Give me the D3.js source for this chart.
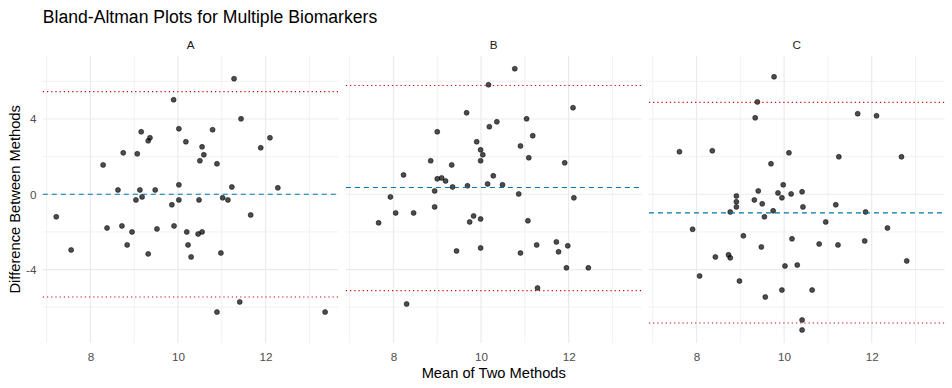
<!DOCTYPE html>
<html>
<head>
<meta charset="utf-8">
<script src="https://cdn.jsdelivr.net/npm/d3@7"></script>
<style>
body { margin: 0; background: #fff; }
text { font-family: "Liberation Sans", Arial, sans-serif; }
</style>
</head>
<body>
<svg id="chart" width="952" height="388"></svg>
<script>
// facets
var panels = ["A", "B", "C"];

// mean of two methods / difference
var meanA = [11.28, 9.90, 11.44, 10.02, 9.16, 10.79, 9.36, 9.32, 10.18, 12.10, 10.55, 11.89, 8.75, 9.07, 10.59, 10.50, 10.89, 8.29, 10.02, 11.23, 12.28, 8.63, 9.13, 9.48, 9.04, 9.18, 10.02, 9.86, 10.48, 11.02, 11.14, 7.22, 11.66, 8.38, 8.72, 9.91, 9.52, 8.95, 10.20, 10.55, 10.46, 8.84, 10.23, 7.56, 9.32, 10.98, 10.30, 11.41, 10.89, 13.36];
var diffA = [6.14, 5.02, 4.01, 3.48, 3.32, 3.43, 3.00, 2.84, 2.79, 3.00, 2.52, 2.47, 2.20, 2.15, 2.10, 1.78, 1.62, 1.56, 0.50, 0.39, 0.34, 0.23, 0.23, 0.23, -0.30, -0.14, -0.30, -0.56, -0.30, -0.19, -0.30, -1.20, -1.10, -1.79, -1.68, -1.68, -1.84, -2.00, -2.00, -2.00, -2.11, -2.69, -2.69, -2.96, -3.17, -3.12, -3.33, -5.72, -6.26, -6.26];

var meanB = [10.77, 10.17, 12.10, 9.67, 11.04, 10.36, 10.19, 9.00, 11.18, 9.90, 10.90, 9.99, 10.04, 9.99, 11.09, 8.85, 9.33, 11.91, 8.23, 10.28, 9.00, 9.10, 9.19, 10.15, 10.49, 9.35, 9.69, 8.94, 10.86, 7.93, 12.12, 8.94, 8.05, 8.46, 9.83, 9.99, 9.74, 7.66, 11.07, 9.44, 9.99, 10.90, 11.27, 11.72, 11.77, 11.98, 11.95, 12.45, 11.29, 8.30];
var diffB = [6.67, 5.82, 4.60, 4.33, 4.01, 3.85, 3.59, 3.32, 3.11, 2.79, 2.57, 2.36, 2.10, 1.78, 1.94, 1.78, 1.56, 1.67, 1.03, 0.98, 0.82, 0.87, 0.71, 0.55, 0.50, 0.39, 0.45, 0.18, 0.02, -0.14, -0.19, -0.67, -0.99, -0.99, -1.15, -1.31, -1.47, -1.52, -1.41, -3.01, -2.85, -3.12, -2.69, -2.53, -3.06, -2.74, -3.91, -3.91, -4.98, -5.83];

var meanC = [9.77, 9.39, 9.34, 11.68, 12.11, 7.61, 8.36, 10.11, 11.25, 12.68, 9.70, 9.98, 9.41, 9.86, 10.16, 10.41, 8.91, 9.95, 8.91, 9.32, 9.50, 8.91, 10.43, 11.18, 8.77, 9.75, 11.86, 9.55, 10.95, 7.91, 12.36, 9.07, 10.18, 10.80, 11.23, 11.84, 9.48, 8.43, 8.73, 8.77, 10.02, 10.30, 12.80, 8.07, 8.98, 9.95, 10.64, 9.57, 10.41, 10.41];
var diffC = [6.24, 4.91, 4.06, 4.28, 4.17, 2.26, 2.31, 2.20, 1.99, 1.99, 1.62, 0.50, 0.18, 0.07, 0.02, 0.13, -0.09, -0.19, -0.40, -0.30, -0.51, -0.67, -0.67, -0.56, -0.94, -0.88, -0.94, -1.20, -1.47, -1.86, -1.79, -2.21, -2.37, -2.64, -2.69, -2.48, -2.80, -3.33, -3.22, -3.38, -3.81, -3.76, -3.54, -4.34, -4.61, -5.09, -5.09, -5.46, -6.68, -7.21];

// bias and limits of agreement per panel
var biasLine = [0.00, 0.36, -0.99];
var upperLoa = [5.45, 5.78, 4.88];
var lowerLoa = [-5.46, -5.12, -6.84];

var xTicks = [8, 10, 12];
var xMinor = [7, 9, 11, 13];
var yTicks = [-4, 0, 4];
var yMinor = [-6, -2, 2, 6];

var means = [meanA, meanB, meanC];
var diffs = [diffA, diffB, diffC];

function drawChart()
{
	var svg = d3.select("#chart");

	var left = 42.8, right = 944.7, gap = 7.3;
	var top = 55.7, bottom = 343;
	var pw = (right - left - 2 * gap) / 3;

	var allX = d3.merge(means), allY = d3.merge(diffs.concat([upperLoa, lowerLoa]));
	var xr = d3.extent(allX), yr = d3.extent(allY);
	var xe = (xr[1] - xr[0]) * 0.05, ye = (yr[1] - yr[0]) * 0.05;

	var y = d3.scaleLinear()
		.domain([yr[0] - ye, yr[1] + ye])
		.range([bottom, top]);

	svg.append("text")
		.attr("x", left)
		.attr("y", 22.7)
		.attr("font-size", 17.6)
		.attr("fill", "#000")
		.text("Bland-Altman Plots for Multiple Biomarkers");

	panels.forEach(function(name, i)
	{
		var x0 = left + i * (pw + gap);
		var x = d3.scaleLinear()
			.domain([xr[0] - xe, xr[1] + xe])
			.range([x0, x0 + pw]);

		var g = svg.append("g");

		// grid
		g.selectAll(".xminor").data(xMinor).enter().append("line")
			.attr("x1", x).attr("x2", x).attr("y1", top).attr("y2", bottom)
			.attr("stroke", "#ebebeb").attr("stroke-width", 0.71);
		g.selectAll(".yminor").data(yMinor).enter().append("line")
			.attr("x1", x0).attr("x2", x0 + pw).attr("y1", y).attr("y2", y)
			.attr("stroke", "#ebebeb").attr("stroke-width", 0.71);
		g.selectAll(".xmajor").data(xTicks).enter().append("line")
			.attr("x1", x).attr("x2", x).attr("y1", top).attr("y2", bottom)
			.attr("stroke", "#ebebeb").attr("stroke-width", 1.2);
		g.selectAll(".ymajor").data(yTicks).enter().append("line")
			.attr("x1", x0).attr("x2", x0 + pw).attr("y1", y).attr("y2", y)
			.attr("stroke", "#ebebeb").attr("stroke-width", 1.2);

		// strip
		g.append("text")
			.attr("x", x0 + pw / 2)
			.attr("y", 48.5)
			.attr("text-anchor", "middle")
			.attr("font-size", 11.7)
			.attr("fill", "#1a1a1a")
			.text(name);

		// x tick labels
		var xAxis = d3.axisBottom(x).tickValues(xTicks).tickFormat(d3.format("d")).tickSize(0).tickPadding(0);
		var ax = g.append("g")
			.attr("transform", "translate(0," + bottom + ")")
			.call(xAxis);
		ax.select(".domain").remove();
		ax.selectAll("text")
			.attr("dy", null)
			.attr("y", 18)
			.attr("font-size", 11.7)
			.attr("font-family", "Liberation Sans, Arial, sans-serif")
			.attr("fill", "#4d4d4d");

		// points
		var pts = means[i].map(function(m, k) { return [m, diffs[i][k]]; });
		g.selectAll("circle")
			.data(pts)
			.enter()
			.append("circle")
			.attr("cx", function(d) { return x(d[0]); })
			.attr("cy", function(d) { return y(d[1]); })
			.attr("r", 2.5)
			.attr("fill", "#000")
			.attr("fill-opacity", 0.7)
			.attr("stroke", "#000")
			.attr("stroke-opacity", 0.7)
			.attr("stroke-width", 0.7);

		// bias and limits
		g.append("line")
			.attr("x1", x0).attr("x2", x0 + pw)
			.attr("y1", y(biasLine[i])).attr("y2", y(biasLine[i]))
			.attr("stroke", "#0072b2").attr("stroke-width", 1.2)
			.attr("stroke-dasharray", "5,4");
		[upperLoa[i], lowerLoa[i]].forEach(function(v)
		{
			g.append("line")
				.attr("x1", x0).attr("x2", x0 + pw)
				.attr("y1", y(v)).attr("y2", y(v))
				.attr("stroke", "#cc0000").attr("stroke-width", 1.2)
				.attr("stroke-dasharray", "1.2,3");
		});
	});

	// y tick labels, first panel only
	var yAxis = d3.axisLeft(y).tickValues(yTicks).tickSize(0).tickPadding(0);
	var ay = svg.append("g")
		.attr("transform", "translate(36.5,0)")
		.call(yAxis);
	ay.select(".domain").remove();
	ay.selectAll("text")
		.attr("font-size", 11.7)
		.attr("font-family", "Liberation Sans, Arial, sans-serif")
		.attr("fill", "#4d4d4d")
		.text(function(d) { return d < 0 ? "-" + Math.abs(d) : d; });

	svg.append("text")
		.attr("x", (left + right) / 2)
		.attr("y", 378)
		.attr("text-anchor", "middle")
		.attr("font-size", 14.7)
		.attr("fill", "#000")
		.text("Mean of Two Methods");

	svg.append("text")
		.attr("transform", "translate(19.5," + ((top + bottom) / 2) + ") rotate(-90)")
		.attr("text-anchor", "middle")
		.attr("font-size", 14.7)
		.attr("fill", "#000")
		.text("Difference Between Methods");
}

drawChart();
</script>
</body>
</html>
